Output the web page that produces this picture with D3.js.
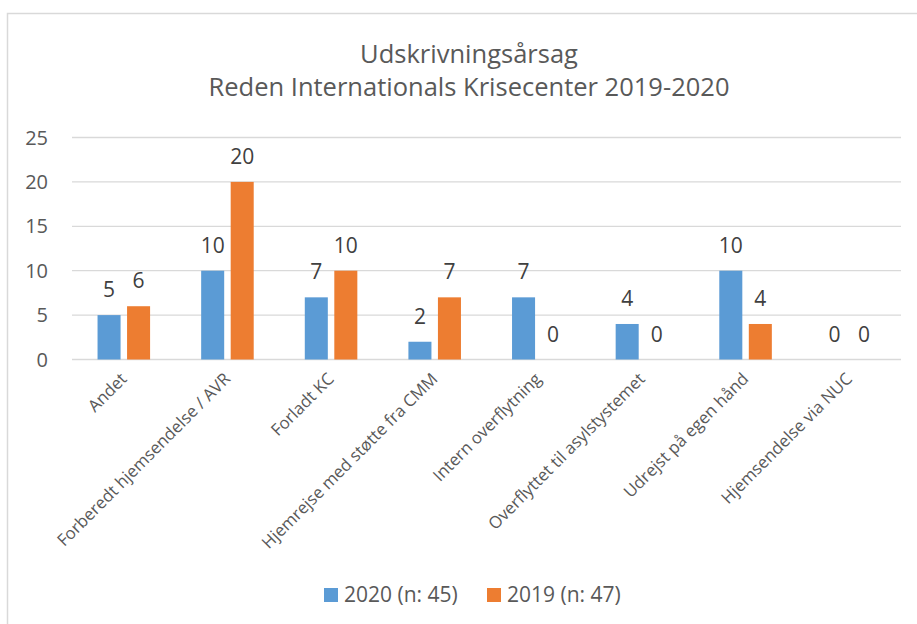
<!DOCTYPE html>
<html>
<head>
<meta charset="utf-8">
<script src="https://d3js.org/d3.v7.min.js"></script>
<style>
  body { margin: 0; background: #fff; }
  text { font-family: "Open Sans", sans-serif; }
</style>
</head>
<body>
<div id="chart"></div>
<script>
// data
var categories = ["Andet", "Forberedt hjemsendelse / AVR", "Forladt KC",
  "Hjemrejse med støtte fra CMM", "Intern overflytning",
  "Overflyttet til asylstystemet", "Udrejst på egen hånd", "Hjemsendelse via NUC"];
var series = ["2020 (n: 45)", "2019 (n: 47)"];
var values2020 = [5, 10, 7, 2, 7, 4, 10, 0];
var values2019 = [6, 20, 10, 7, 0, 0, 4, 0];
var yTicks = [0, 5, 10, 15, 20, 25];
var titleLines = ["Udskrivningsårsag", "Reden Internationals Krisecenter 2019-2020"];
var colors = ["#5b9bd5", "#ed7d31"];

var width = 917, height = 624;
var margin = {top: 137.5, right: 16, bottom: 264.5, left: 72};

var svg = d3.select("#chart")
  .append("svg")
    .attr("width", width)
    .attr("height", height);

// chart frame (only top and left edges show in the crop)
svg.append("path")
  .attr("d", "M7.5," + height + "V13.5H" + width)
  .attr("fill", "none")
  .attr("stroke", "#d9d9d9")
  .attr("stroke-width", 1.5);

// title
svg.append("g").selectAll("text")
  .data(titleLines)
  .join("text")
    .attr("x", 469)
    .attr("y", function(d, i) { return 63 + i * 33; })
    .attr("text-anchor", "middle")
    .attr("font-size", 25.5)
    .attr("fill", "#595959")
    .text(function(d) { return d; });

var x0 = d3.scaleBand()
  .domain(categories)
  .range([margin.left, width - margin.right]);

var x1 = d3.scaleBand()
  .domain(series)
  .range([0, x0.bandwidth()])
  .paddingInner(0.22)
  .paddingOuter(0.865);

var y = d3.scaleLinear()
  .domain([0, 25])
  .range([height - margin.bottom, margin.top]);

// gridlines
svg.append("g").selectAll("line")
  .data(yTicks)
  .join("line")
    .attr("x1", margin.left)
    .attr("x2", width - margin.right)
    .attr("y1", function(d) { return y(d); })
    .attr("y2", function(d) { return y(d); })
    .attr("stroke", "#d9d9d9")
    .attr("stroke-width", 1.3);

// y labels
svg.append("g").selectAll("text")
  .data(yTicks)
  .join("text")
    .attr("x", 48)
    .attr("y", function(d) { return y(d); })
    .attr("dy", "0.35em")
    .attr("text-anchor", "end")
    .attr("font-size", 20)
    .attr("fill", "#595959")
    .text(function(d) { return d; });

var rows = [];
categories.forEach(function(c, i) {
  rows.push({cat: c, s: series[0], v: values2020[i], k: 0});
  rows.push({cat: c, s: series[1], v: values2019[i], k: 1});
});

// bars
svg.append("g").selectAll("rect")
  .data(rows)
  .join("rect")
    .attr("x", function(d) { return x0(d.cat) + x1(d.s); })
    .attr("y", function(d) { return y(d.v); })
    .attr("width", x1.bandwidth())
    .attr("height", function(d) { return y(0) - y(d.v); })
    .attr("fill", function(d) { return colors[d.k]; });

// value labels
svg.append("g").selectAll("text")
  .data(rows)
  .join("text")
    .attr("x", function(d) { return x0(d.cat) + x1(d.s) + x1.bandwidth() / 2; })
    .attr("y", function(d) { return y(d.v) - 18; })
    .attr("text-anchor", "middle")
    .attr("font-size", 21)
    .attr("fill", "#404040")
    .text(function(d) { return d.v; });

// category labels, rotated
svg.append("g").selectAll("text")
  .data(categories)
  .join("text")
    .attr("transform", function(d) {
      return "translate(" + (x0(d) + x0.bandwidth() / 2 + 4) + ",380) rotate(-45)";
    })
    .attr("text-anchor", "end")
    .attr("font-size", 16.8)
    .attr("fill", "#595959")
    .text(function(d) { return d; });

// legend
var legend = svg.append("g").selectAll("g")
  .data(series)
  .join("g")
    .attr("transform", function(d, i) { return "translate(" + (324 + i * 163) + ",588)"; });

legend.append("rect")
  .attr("width", 14)
  .attr("height", 14)
  .attr("fill", function(d, i) { return colors[i]; });

legend.append("text")
  .attr("x", 20)
  .attr("y", 14)
  .attr("font-size", 21)
  .attr("fill", "#595959")
  .text(function(d) { return d; });
</script>
</body>
</html>
